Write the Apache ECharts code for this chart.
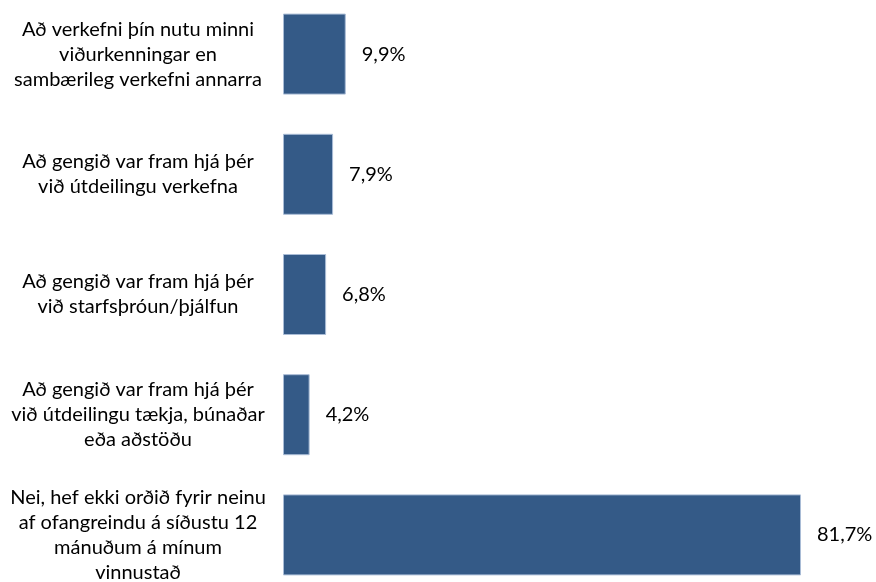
<!DOCTYPE html>
<html>
<head>
<meta charset="utf-8">
<script src="https://cdn.jsdelivr.net/npm/echarts@6/dist/echarts.min.js"></script>
<style>
  html, body { margin: 0; padding: 0; background: #fff; }
  #main { width: 876px; height: 582px; }
</style>
</head>
<body>
<div id="main"></div>
<script>
// svör, efst til neðst
var categories = [
    'Að verkefni þín nutu minni\nviðurkenningar en\nsambærileg verkefni annarra',
    'Að gengið var fram hjá þér\nvið útdeilingu verkefna',
    'Að gengið var fram hjá þér\nvið starfsþróun/þjálfun',
    'Að gengið var fram hjá þér\nvið útdeilingu tækja, búnaðar\neða aðstöðu',
    'Nei, hef ekki orðið fyrir neinu\naf ofangreindu á síðustu 12\nmánuðum á mínum\nvinnustað'
];
var values = [9.9, 7.9, 6.8, 4.2, 81.7];

var myChart = echarts.init(document.getElementById('main'));
var fontFam = 'Lato, "Liberation Sans", sans-serif';

myChart.setOption({
    backgroundColor: '#fff',
    animation: false,
    grid: {
        left: 283,
        right: 75,
        top: -6,
        height: 601,
        outerBoundsMode: 'none'
    },
    xAxis: {
        type: 'value',
        min: 0,
        max: function (v) { return v.max; },
        show: false
    },
    yAxis: {
        type: 'category',
        data: categories,
        inverse: true,
        axisLine: { show: false },
        axisTick: { show: false },
        axisLabel: {
            margin: 145,
            align: 'center',
            color: '#000',
            fontFamily: fontFam,
            fontSize: 20,
            lineHeight: 25
        }
    },
    series: [{
        type: 'bar',
        data: values,
        barWidth: 81,
        itemStyle: {
            color: '#345a87',
            borderColor: '#a9bcd6',
            borderWidth: 1
        },
        label: {
            show: true,
            position: 'right',
            distance: 16,
            color: '#000',
            fontFamily: fontFam,
            fontSize: 20,
            formatter: function (p) {
                return p.value.toFixed(1).replace('.', ',') + '%';
            }
        }
    }]
});
</script>
</body>
</html>
